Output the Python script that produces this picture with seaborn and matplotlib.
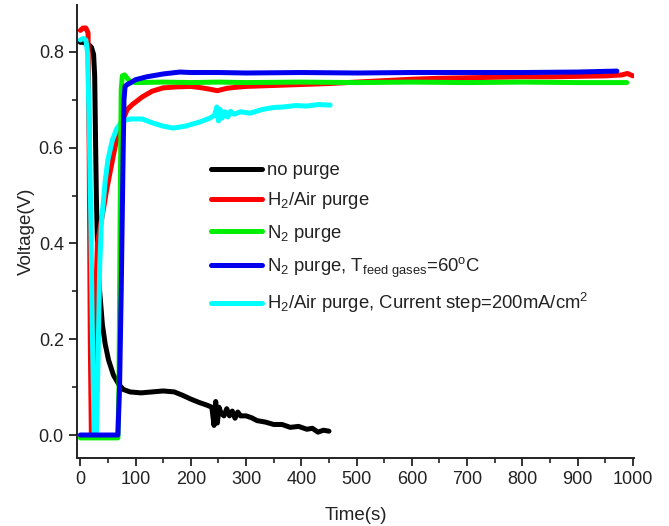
import numpy as np
import pandas as pd
import matplotlib
matplotlib.use("Agg")
import matplotlib.pyplot as plt
from matplotlib.ticker import MultipleLocator, FormatStrFormatter
import seaborn as sns

# ---------------- data ----------------
t_black = [0, 5, 10, 15, 20, 24, 26, 27.5, 29, 31, 35, 40, 45, 51, 60, 70, 78, 90, 110, 130,
           150, 170, 185, 200, 215, 230, 238, 242, 245, 248, 251, 255, 260, 265, 270, 275,
           280, 285, 290, 300, 310, 320, 335, 350, 365, 380, 395, 410, 420, 430, 440, 450]
v_black = [0.82, 0.82, 0.818, 0.815, 0.81, 0.795, 0.75, 0.62, 0.5, 0.40, 0.30, 0.23, 0.19,
           0.157, 0.125, 0.105, 0.095, 0.09, 0.088, 0.09, 0.092, 0.09, 0.083, 0.075, 0.068,
           0.062, 0.058, 0.02, 0.07, 0.025, 0.058, 0.045, 0.04, 0.055, 0.04, 0.05, 0.035,
           0.048, 0.04, 0.04, 0.036, 0.03, 0.027, 0.022, 0.022, 0.016, 0.018, 0.012, 0.014,
           0.006, 0.01, 0.008]

t_red = [0, 5, 10, 14, 16, 18, 20, 24, 27, 31, 40, 49, 60, 69, 85, 94, 112, 130, 150, 175,
         200, 220, 235, 248, 265, 280, 300, 350, 400, 450, 500, 550, 600, 650, 700, 750,
         800, 850, 900, 950, 980, 990, 1000]
v_red = [0.845, 0.85, 0.85, 0.84, 0.6, 0.2, 0.0, 0.0, 0.25, 0.40, 0.46, 0.52, 0.585, 0.635,
         0.68, 0.69, 0.706, 0.718, 0.725, 0.727, 0.728, 0.725, 0.722, 0.719, 0.724, 0.726,
         0.728, 0.73, 0.732, 0.734, 0.737, 0.74, 0.743, 0.745, 0.746, 0.747, 0.748, 0.748,
         0.749, 0.75, 0.752, 0.755, 0.75]

t_green = [0, 20, 40, 60, 68, 70, 72, 74, 76, 80, 85, 90, 100, 150, 200, 250, 300, 400,
           500, 600, 700, 800, 900, 989]
v_green = [-0.006, -0.006, -0.006, -0.006, -0.006, 0.1, 0.45, 0.72, 0.75, 0.752, 0.745,
           0.738, 0.736, 0.737, 0.736, 0.737, 0.736, 0.737, 0.736, 0.737, 0.736, 0.737,
           0.736, 0.736]

t_blue = [0, 20, 40, 60, 68, 71, 74, 77, 79, 81, 85, 90, 100, 120, 150, 180, 200, 250, 300,
          400, 500, 600, 700, 800, 900, 971]
v_blue = [0.0, 0.0, 0.0, 0.0, 0.0, 0.1, 0.3, 0.55, 0.7, 0.728, 0.732, 0.735, 0.742, 0.748,
          0.754, 0.758, 0.757, 0.757, 0.756, 0.757, 0.756, 0.757, 0.757, 0.757, 0.758, 0.76]

t_cyan = [0, 5, 10, 13, 16, 19, 22, 25, 29, 32, 35, 38, 45, 50, 58, 66, 76, 90, 112, 130,
          150, 168, 190, 205, 217, 235, 243, 247, 250, 253, 257, 262, 267, 272, 278, 290,
          307, 330, 350, 367, 390, 410, 430, 452]
v_cyan = [0.825, 0.828, 0.825, 0.80, 0.65, 0.45, 0.2, 0.0, 0.0, 0.15, 0.35, 0.44, 0.53,
          0.575, 0.616, 0.64, 0.656, 0.66, 0.66, 0.652, 0.645, 0.641, 0.645, 0.65, 0.654,
          0.662, 0.668, 0.685, 0.656, 0.68, 0.662, 0.675, 0.664, 0.676, 0.67, 0.675, 0.672,
          0.68, 0.684, 0.685, 0.688, 0.687, 0.69, 0.689]

labels = ["no purge",
          r"H$_2$/Air purge",
          r"N$_2$ purge",
          r"N$_2$ purge, T$_{\mathrm{feed\ gases}}$=60$^{\mathrm{o}}$C",
          r"H$_2$/Air purge, Current step=200mA/cm$^2$"]
colors = ["#000000", "#ff0000", "#00ee00", "#0000ee", "#00ffff"]
series_t = [t_black, t_red, t_green, t_blue, t_cyan]
series_v = [v_black, v_red, v_green, v_blue, v_cyan]
zorders = [2.0, 2.1, 2.3, 2.4, 2.2]

frames = []
for lab, tt, vv in zip(labels, series_t, series_v):
    frames.append(pd.DataFrame({"t": tt, "v": vv, "series": lab}))
df = pd.concat(frames, ignore_index=True)

# ---------------- style ----------------
sns.set_style("ticks")
plt.rcParams["font.family"] = ["Liberation Sans", "DejaVu Sans"]
plt.rcParams["mathtext.fontset"] = "custom"
plt.rcParams["mathtext.rm"] = "Liberation Sans"
plt.rcParams["mathtext.it"] = "Liberation Sans:italic"
plt.rcParams["mathtext.bf"] = "Liberation Sans:bold"

fig = plt.figure(figsize=(6.69, 5.26), dpi=100)
ax = fig.add_axes([77 / 669, 1 - 458 / 526, (634 - 77) / 669, (458 - 5) / 526])

sns.lineplot(data=df, x="t", y="v", hue="series", hue_order=labels,
             palette=dict(zip(labels, colors)), sort=False, estimator=None,
             linewidth=3.6, legend=False, ax=ax)
for ln, z in zip(ax.lines, zorders):
    ln.set_zorder(z)
    ln.set_solid_capstyle("round")
    ln.set_solid_joinstyle("round")

ax.set_xlim(-6, 1002)
ax.set_ylim(-0.048, 0.898)
ax.xaxis.set_major_locator(MultipleLocator(100))
ax.xaxis.set_minor_locator(MultipleLocator(50))
ax.yaxis.set_major_locator(MultipleLocator(0.2))
ax.yaxis.set_minor_locator(MultipleLocator(0.1))
ax.yaxis.set_major_formatter(FormatStrFormatter("%.1f"))
ax.tick_params(which="major", direction="out", length=6, width=1.3, labelsize=13,
               color="#222222", labelcolor="#222222")
ax.tick_params(which="minor", direction="out", length=3.5, width=1.2, color="#222222")
sns.despine(ax=ax)
for s in ("left", "bottom"):
    ax.spines[s].set_linewidth(1.4)
    ax.spines[s].set_color("#222222")

ax.set_xlabel("Time(s)", fontsize=13.5, color="#222222", labelpad=13.5)
ax.set_ylabel("Voltage(V)", fontsize=13.5, color="#222222", labelpad=3)

leg = ax.legend(ax.lines[:5], labels, loc="upper left",
                bbox_to_anchor=(211 / 669, 1 - 162 / 526), bbox_transform=fig.transFigure,
                frameon=False, fontsize=13.3, handlelength=2.75, handletextpad=0.3,
                borderpad=0, borderaxespad=0, labelspacing=0.62)
for txt in leg.get_texts():
    txt.set_color("#222222")

fig.savefig("out.png", dpi=100)
